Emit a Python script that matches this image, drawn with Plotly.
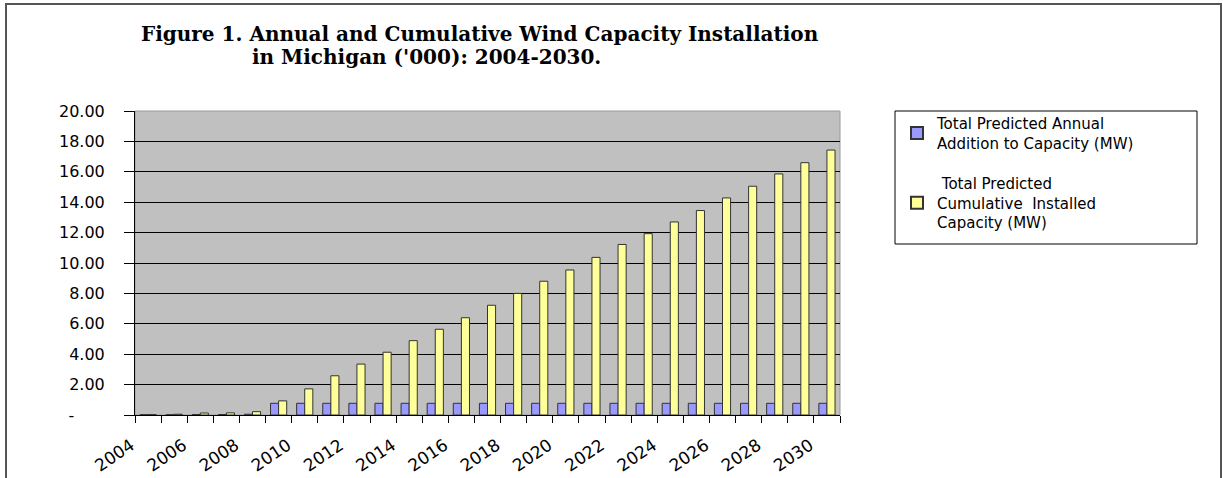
import plotly.graph_objects as go

years = list(range(2004, 2031))
annual = [0.02, 0.02, 0.03, 0.03, 0.05, 0.77, 0.77, 0.77, 0.77, 0.77, 0.77, 0.77, 0.77, 0.77,
          0.77, 0.77, 0.77, 0.77, 0.77, 0.77, 0.77, 0.77, 0.77, 0.77, 0.77, 0.77, 0.77]
cumulative = [0.03, 0.05, 0.13, 0.14, 0.22, 0.93, 1.72, 2.58, 3.35, 4.13, 4.89, 5.64, 6.40, 7.22,
              8.00, 8.80, 9.54, 10.37, 11.22, 11.93, 12.70, 13.45, 14.28, 15.05, 15.86, 16.60, 17.43]
y_tickvals = [0, 2, 4, 6, 8, 10, 12, 14, 16, 18, 20]
y_ticktext = ["-\u00a0\u00a0\u00a0\u00a0\u00a0\u00a0", "2.00", "4.00", "6.00", "8.00", "10.00",
              "12.00", "14.00", "16.00", "18.00", "20.00"]
x_tickvals = list(range(2004, 2031, 2))
name_annual = "Total Predicted Annual<br>Addition to Capacity (MW)"
name_cum = " Total Predicted<br>Cumulative  Installed<br>Capacity (MW)"
title1 = "Figure 1. Annual and Cumulative Wind Capacity Installation"
title2 = "in Michigan ('000): 2004-2030."

W, H = 1223, 478
L, R, T, B = 135, 840, 111, 415

fig = go.Figure()
fig.add_trace(go.Bar(x=years, y=annual, name=name_annual, legendgroup="a",
                     marker=dict(color="#9999FF", line=dict(color="#333333", width=1))))
fig.add_trace(go.Bar(x=years, y=cumulative, name=name_cum, legendgroup="b",
                     marker=dict(color="#FFFF99", line=dict(color="#333333", width=1))))

def px(x):
    return (x - L) / (R - L)

def py(y):
    return (B - y) / (B - T)

fig.update_layout(
    width=W, height=H,
    margin=dict(l=L, r=W - R, t=T, b=H - B, autoexpand=False),
    paper_bgcolor="white",
    plot_bgcolor="#C0C0C0",
    barmode="group",
    bargap=0.38,
    bargroupgap=0,
    font=dict(family="DejaVu Sans", size=15, color="black"),
    showlegend=True,
    legend=dict(x=px(897), y=py(107), xanchor="left", yanchor="top",
                borderwidth=0, bgcolor="rgba(0,0,0,0)",
                font=dict(family="DejaVu Sans", size=15, color="black"),
                tracegroupgap=18, itemsizing="constant"),
    xaxis=dict(range=[2003.5, 2030.5], tickvals=x_tickvals, tickangle=-34,
               ticks="", showgrid=False, showline=True, linecolor="black", linewidth=1,
               tickfont=dict(family="DejaVu Sans", size=17),
               ticklabelstandoff=13, ticklabelshift=-17,
               minor=dict(tick0=2003.5, dtick=1, ticks="outside", ticklen=7,
                          tickcolor="black", tickwidth=1, showgrid=False)),
    yaxis=dict(range=[0, 20], tickvals=y_tickvals, ticktext=y_ticktext,
               ticks="outside", ticklen=10, tickcolor="black", showline=True,
               linecolor="black", linewidth=1, showgrid=True, gridcolor="black",
               gridwidth=1, zeroline=False, ticklabelstandoff=16,
               tickfont=dict(family="DejaVu Sans", size=16)),
    annotations=[
        dict(text="<b>" + title1 + "</b>", x=px(139), y=py(43), xref="paper", yref="paper",
             xanchor="left", yanchor="bottom", showarrow=False, yshift=-5,
             font=dict(family="DejaVu Serif", size=20, color="black")),
        dict(text="<b>" + title2 + "</b>", x=px(250), y=py(66), xref="paper", yref="paper",
             xanchor="left", yanchor="bottom", showarrow=False, yshift=-5,
             font=dict(family="DejaVu Serif", size=20, color="black")),
    ],
    shapes=[
        dict(type="rect", xref="paper", yref="paper", x0=px(6), x1=px(1221), y0=py(485), y1=py(4),
             line=dict(color="#555555", width=2), layer="below"),
        dict(type="rect", xref="paper", yref="paper", x0=0, x1=1, y0=0, y1=1,
             line=dict(color="#9a9a9a", width=1), layer="below"),
        dict(type="rect", xref="paper", yref="paper", x0=px(895), x1=px(1197), y0=py(244), y1=py(111),
             line=dict(color="black", width=1), fillcolor="white", layer="below"),
    ],
)

fig.write_html("out.html", config={"displayModeBar": False},
               post_script="document.body.style.margin='0px';")
